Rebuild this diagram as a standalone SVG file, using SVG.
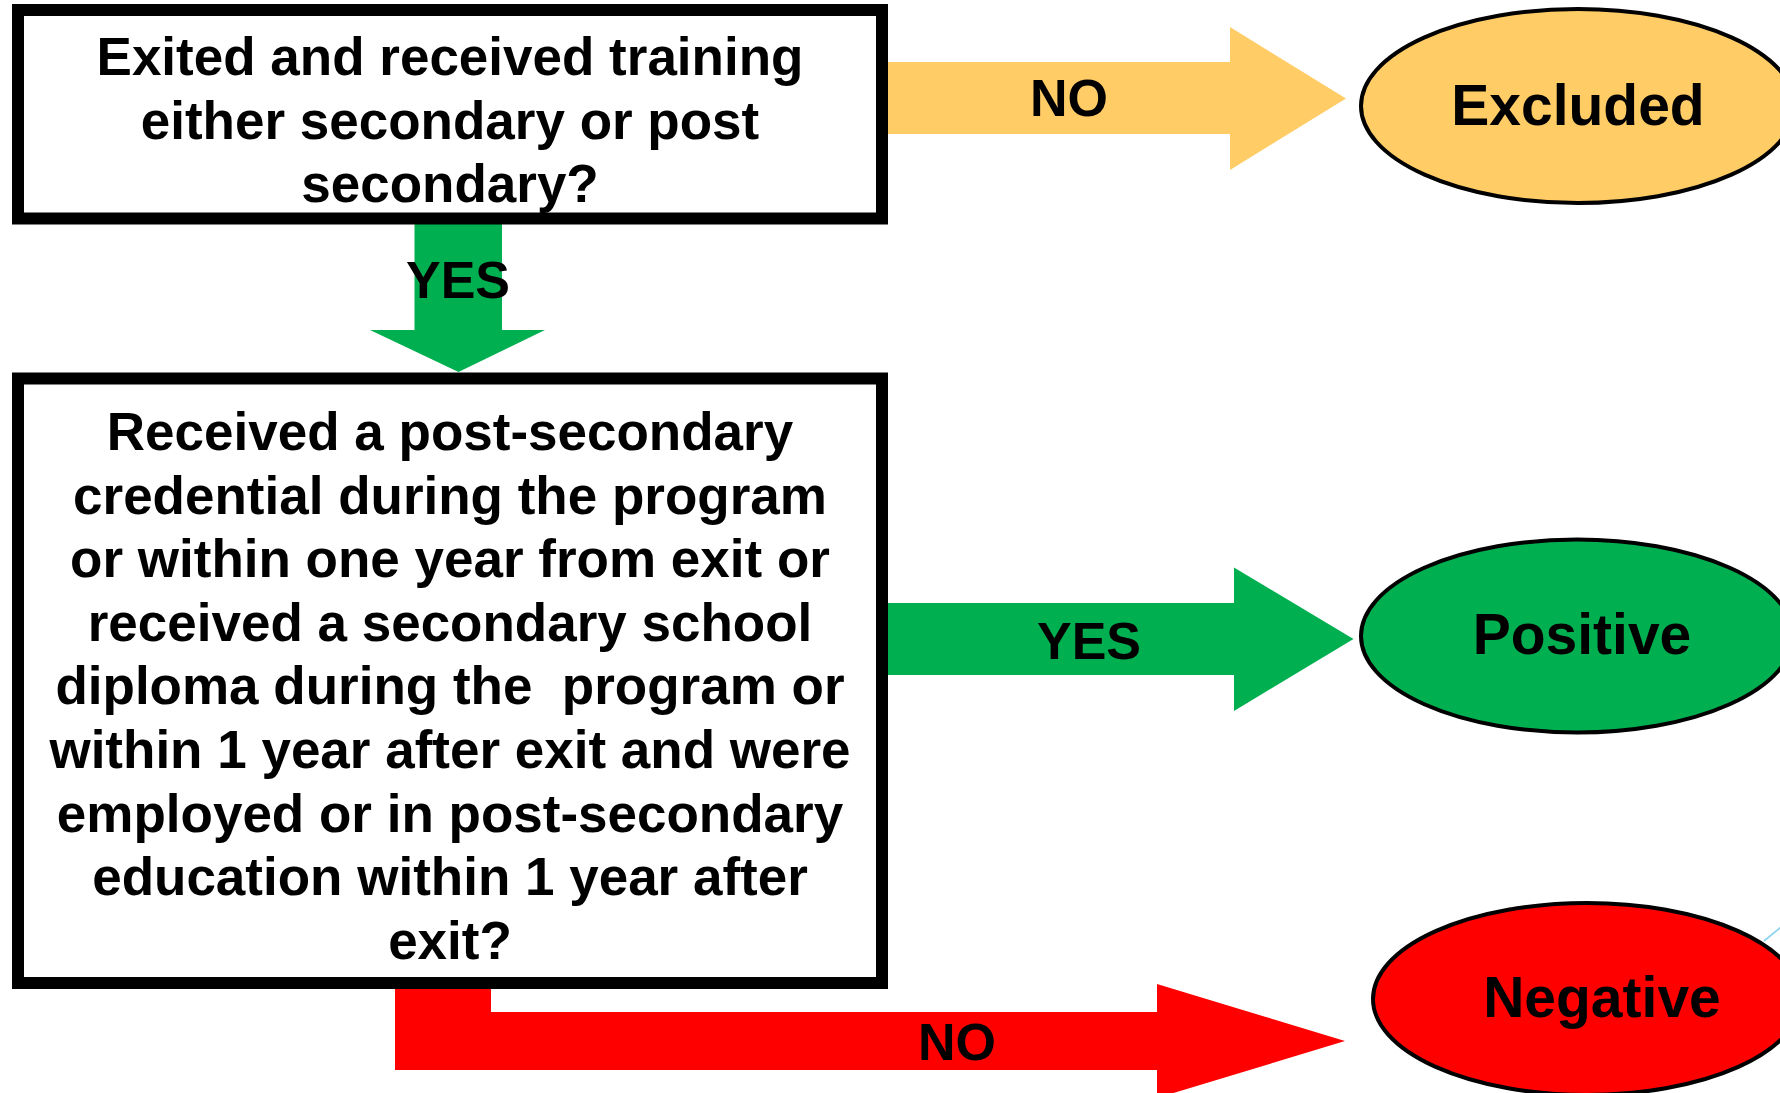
<svg xmlns="http://www.w3.org/2000/svg" width="1780" height="1093" viewBox="0 0 1780 1093">
<style>
text{font-family:"Liberation Sans",Arial,sans-serif;font-weight:bold;fill:#000;text-anchor:middle}
.q{font-size:53px}
.lbl{font-size:52px}
.end{font-size:57px}
.box{fill:#fff;stroke:#000;stroke-width:12}
.ell{stroke:#000;stroke-width:4}
</style>
<rect width="1780" height="1093" fill="#fff"/>
<g id="connectors">
  <g id="c-no-excluded">
    <polygon points="888,62 1230,62 1230,27 1346,98.5 1230,170 1230,134 888,134" fill="#FFCC66"/>
    <text class="lbl" x="1069" y="116">NO</text>
  </g>
  <g id="c-yes-down">
    <polygon points="414.5,224 502,224 502,330 545,330 458.5,372 370,330 414.5,330" fill="#00B050"/>
    <text class="lbl" x="458" y="298">YES</text>
  </g>
  <g id="c-yes-positive">
    <polygon points="888,603 1234,603 1234,567.5 1353.5,639 1234,711 1234,675 888,675" fill="#00B050"/>
    <text class="lbl" x="1089" y="659">YES</text>
  </g>
  <g id="c-no-negative">
    <polygon points="395,985 491,985 491,1012 1157,1012 1157,984 1345,1041 1157,1098 1157,1070 395,1070" fill="#FF0000"/>
    <text class="lbl" x="957" y="1060">NO</text>
  </g>
  <line x1="1764" y1="941" x2="1786" y2="923" stroke="#8FD3F0" stroke-width="1.8"/>
</g>
<g id="q1">
  <rect class="box" x="18" y="10" width="864" height="208.5"/>
  <text class="q" x="450"><tspan x="450" y="75">Exited and received training</tspan><tspan x="450" y="138.5">either secondary or post</tspan><tspan x="450" y="202">secondary?</tspan></text>
</g>
<g id="q2">
  <rect class="box" x="18" y="378.5" width="864" height="604.5"/>
  <text class="q" x="450"><tspan x="450" y="450">Received a post-secondary</tspan><tspan x="450" y="513.6">credential during the program</tspan><tspan x="450" y="577.2">or within one year from exit or</tspan><tspan x="450" y="640.8">received a secondary school</tspan><tspan x="450" y="704.4">diploma during the &#160;program or</tspan><tspan x="450" y="768">within 1 year after exit and were</tspan><tspan x="450" y="831.6">employed or in post-secondary</tspan><tspan x="450" y="895.2">education within 1 year after</tspan><tspan x="450" y="959">exit?</tspan></text>
</g>
<g id="excluded">
  <ellipse class="ell" cx="1578" cy="106" rx="217" ry="97" fill="#FFCC66"/>
  <text class="end" x="1578" y="125">Excluded</text>
</g>
<g id="positive">
  <ellipse class="ell" cx="1577" cy="636" rx="216" ry="96.5" fill="#00B050"/>
  <text class="end" x="1582" y="654">Positive</text>
</g>
<g id="negative">
  <ellipse class="ell" cx="1587" cy="999" rx="214" ry="96" fill="#FF0000"/>
  <text class="end" x="1602" y="1017">Negative</text>
</g>
</svg>
